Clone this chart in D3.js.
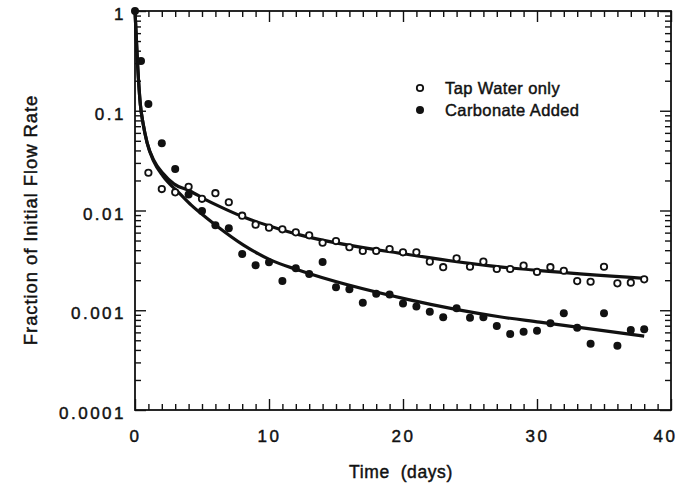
<!DOCTYPE html>
<html>
<head>
<meta charset="utf-8">
<script src="https://cdn.jsdelivr.net/npm/d3@7"></script>
<style>
  html, body { margin: 0; padding: 0; background: #fff; }
  svg { display: block; }
  text { font-family: "Liberation Sans", Arial, Helvetica, sans-serif; fill: #111; stroke: #111; stroke-width: 0.45px; }
</style>
</head>
<body>
<svg id="chart" width="681" height="492"></svg>
<script>
// ---- data ----
const tapTimes = d3.range(0, 39);
const tapValues = [1, 0.0239, 0.0164, 0.0152, 0.0173, 0.0131, 0.0149, 0.0121, 0.00887, 0.00721,
  0.00673, 0.00648, 0.00604, 0.00564, 0.00475, 0.00494, 0.00428, 0.00393, 0.00393, 0.00411,
  0.00381, 0.00381, 0.00307, 0.00270, 0.00332, 0.00273, 0.00307, 0.00259, 0.00259, 0.00280,
  0.00242, 0.00270, 0.00249, 0.00196, 0.00193, 0.00273, 0.00186, 0.00189, 0.00204];

const carbTimes = [0, 0.45, 1, 2, 3, 4, 5, 6, 7, 8, 9, 10, 11, 12, 13, 14, 15, 16, 17, 18, 19,
  20, 21, 22, 23, 24, 25, 26, 27, 28, 29, 30, 31, 32, 33, 34, 35, 36, 37, 38];
const carbValues = [1, 0.315, 0.117, 0.0472, 0.0261, 0.0145, 0.00989, 0.00711, 0.00663, 0.00366,
  0.00282, 0.00303, 0.00196, 0.00263, 0.00231, 0.00305, 0.00170, 0.00162, 0.00119, 0.00146,
  0.00144, 0.00117, 0.00109, 0.000967, 0.000850, 0.00105, 0.000842, 0.000850, 0.000695, 0.000578,
  0.000609, 0.000624, 0.000740, 0.000932, 0.000668, 0.000462, 0.000932, 0.000441, 0.000634, 0.000644];

// fitted curves
const tapFitTimes = [0, 0.2, 0.4, 0.6, 0.9, 1.4, 2.1, 2.9, 4.1, 5.3, 6.3, 8.1, 10.8, 12.3, 20.5, 27.2, 30.2, 38];
const tapFitValues = [1, 0.28, 0.115, 0.075, 0.048, 0.032, 0.0235, 0.0185, 0.0157, 0.0128, 0.0110, 0.0086, 0.0065, 0.0057, 0.0036, 0.00272, 0.00250, 0.00209];
const carbFitTimes = [0, 0.2, 0.4, 0.6, 0.9, 1.4, 2.1, 3.4, 4.2, 5.3, 6.1, 8.1, 10.1, 12.3, 20.5, 27.2, 30.2, 38];
const carbFitValues = [1, 0.28, 0.115, 0.075, 0.048, 0.031, 0.022, 0.0145, 0.0113, 0.0085, 0.0070, 0.0045, 0.0032, 0.0025, 0.00127, 0.00086, 0.00076, 0.00055];

const xTicks = [0, 10, 20, 30, 40];
const xTickLabels = ["0", "10", "20", "30", "40"];
const yTicks = [0.0001, 0.001, 0.01, 0.1, 1];
const yTickLabels = ["0.0001", "0.001", "0.01", "0.1", "1"];
const seriesNames = ["Tap Water only", "Carbonate Added"];
const xTitle = "Time  (days)";
const yTitle = "Fraction of Initial Flow Rate";

// ---- layout ----
const L = 135, R = 671, T = 11, B = 410;
const svg = d3.select("#chart");
const x = d3.scaleLinear().domain([0, 40]).range([L, R]);
const y = d3.scaleLog().domain([0.0001, 1]).range([B, T]);

const minorX = d3.range(1, 40).filter(d => d % 10 !== 0);
const minorY = [];
for (let e = -4; e < 0; e++) for (let m = 2; m <= 9; m++) minorY.push(m * Math.pow(10, e));

function styleAxis(g) {
  g.select(".domain").remove();
  g.selectAll(".tick line").attr("stroke", "#111").attr("stroke-width", 1.4);
}

// bottom
svg.append("g").attr("transform", `translate(0,${B})`)
  .call(d3.axisBottom(x).tickValues(xTicks).tickSize(-11).tickPadding(20)
    .tickFormat((d, i) => xTickLabels[i]))
  .call(styleAxis)
  .call(g => g.selectAll("text").attr("font-size", 17).attr("letter-spacing", 2.5)
    .attr("font-family", null).attr("fill", "#111")
    .attr("dx", d => d === 40 ? -6 : 0));
svg.append("g").attr("transform", `translate(0,${B})`)
  .call(d3.axisBottom(x).tickValues(minorX).tickSize(-6).tickFormat(""))
  .call(styleAxis);
// top
svg.append("g").attr("transform", `translate(0,${T})`)
  .call(d3.axisTop(x).tickValues(xTicks).tickSize(-11).tickFormat(""))
  .call(styleAxis);
svg.append("g").attr("transform", `translate(0,${T})`)
  .call(d3.axisTop(x).tickValues(minorX).tickSize(-6).tickFormat(""))
  .call(styleAxis);
// left
svg.append("g").attr("transform", `translate(${L},0)`)
  .call(d3.axisLeft(y).tickValues(yTicks).tickSize(-11).tickPadding(9)
    .tickFormat(d => yTickLabels[yTicks.indexOf(d)]))
  .call(styleAxis)
  .call(g => g.selectAll("text").attr("font-size", 17).attr("letter-spacing", 2.5)
    .attr("font-family", null).attr("fill", "#111").attr("dy", "0.5em"));
svg.append("g").attr("transform", `translate(${L},0)`)
  .call(d3.axisLeft(y).tickValues(minorY).tickSize(-6).tickFormat(""))
  .call(styleAxis);
// right
svg.append("g").attr("transform", `translate(${R},0)`)
  .call(d3.axisRight(y).tickValues(yTicks).tickSize(-11).tickFormat(""))
  .call(styleAxis);
svg.append("g").attr("transform", `translate(${R},0)`)
  .call(d3.axisRight(y).tickValues(minorY).tickSize(-6).tickFormat(""))
  .call(styleAxis);

// frame
svg.append("rect").attr("x", L).attr("y", T).attr("width", R - L).attr("height", B - T)
  .attr("fill", "none").attr("stroke", "#111").attr("stroke-width", 1.8);

// fitted curves
const line = d3.line().x(d => x(d[0])).y(d => y(d[1])).curve(d3.curveMonotoneX);
svg.append("path").datum(tapFitTimes.map((t, i) => [t, tapFitValues[i]]))
  .attr("d", line).attr("fill", "none").attr("stroke", "#111").attr("stroke-width", 3.2);
svg.append("path").datum(carbFitTimes.map((t, i) => [t, carbFitValues[i]]))
  .attr("d", line).attr("fill", "none").attr("stroke", "#111").attr("stroke-width", 3.2);

// points
svg.append("g").selectAll("circle").data(carbTimes.map((t, i) => [t, carbValues[i]]))
  .join("circle").attr("cx", d => x(d[0])).attr("cy", d => y(d[1])).attr("r", 4)
  .attr("fill", "#111");
svg.append("g").selectAll("circle").data(tapTimes.map((t, i) => [t, tapValues[i]]).slice(1))
  .join("circle").attr("cx", d => x(d[0])).attr("cy", d => y(d[1])).attr("r", 3.2)
  .attr("fill", "#fff").attr("stroke", "#111").attr("stroke-width", 1.8);

// legend
const lg = svg.append("g");
lg.append("circle").attr("cx", 420).attr("cy", 88).attr("r", 3.2)
  .attr("fill", "#fff").attr("stroke", "#111").attr("stroke-width", 1.8);
lg.append("circle").attr("cx", 420).attr("cy", 110).attr("r", 4).attr("fill", "#111");
lg.append("text").attr("x", 445).attr("y", 94).attr("font-size", 16.5).attr("letter-spacing", 0.4)
  .text(seriesNames[0]);
lg.append("text").attr("x", 445).attr("y", 116).attr("font-size", 16.5).attr("letter-spacing", 0.4)
  .text(seriesNames[1]);

// titles
svg.append("text").attr("x", 401).attr("y", 478).attr("text-anchor", "middle")
  .attr("font-size", 17.5).attr("letter-spacing", 0.6).attr("xml:space", "preserve")
  .style("white-space", "pre").text(xTitle);
svg.append("text").attr("transform", "translate(37,220) rotate(-90)").attr("text-anchor", "middle")
  .attr("font-size", 18.5).attr("letter-spacing", 0.9).text(yTitle);
</script>
</body>
</html>
